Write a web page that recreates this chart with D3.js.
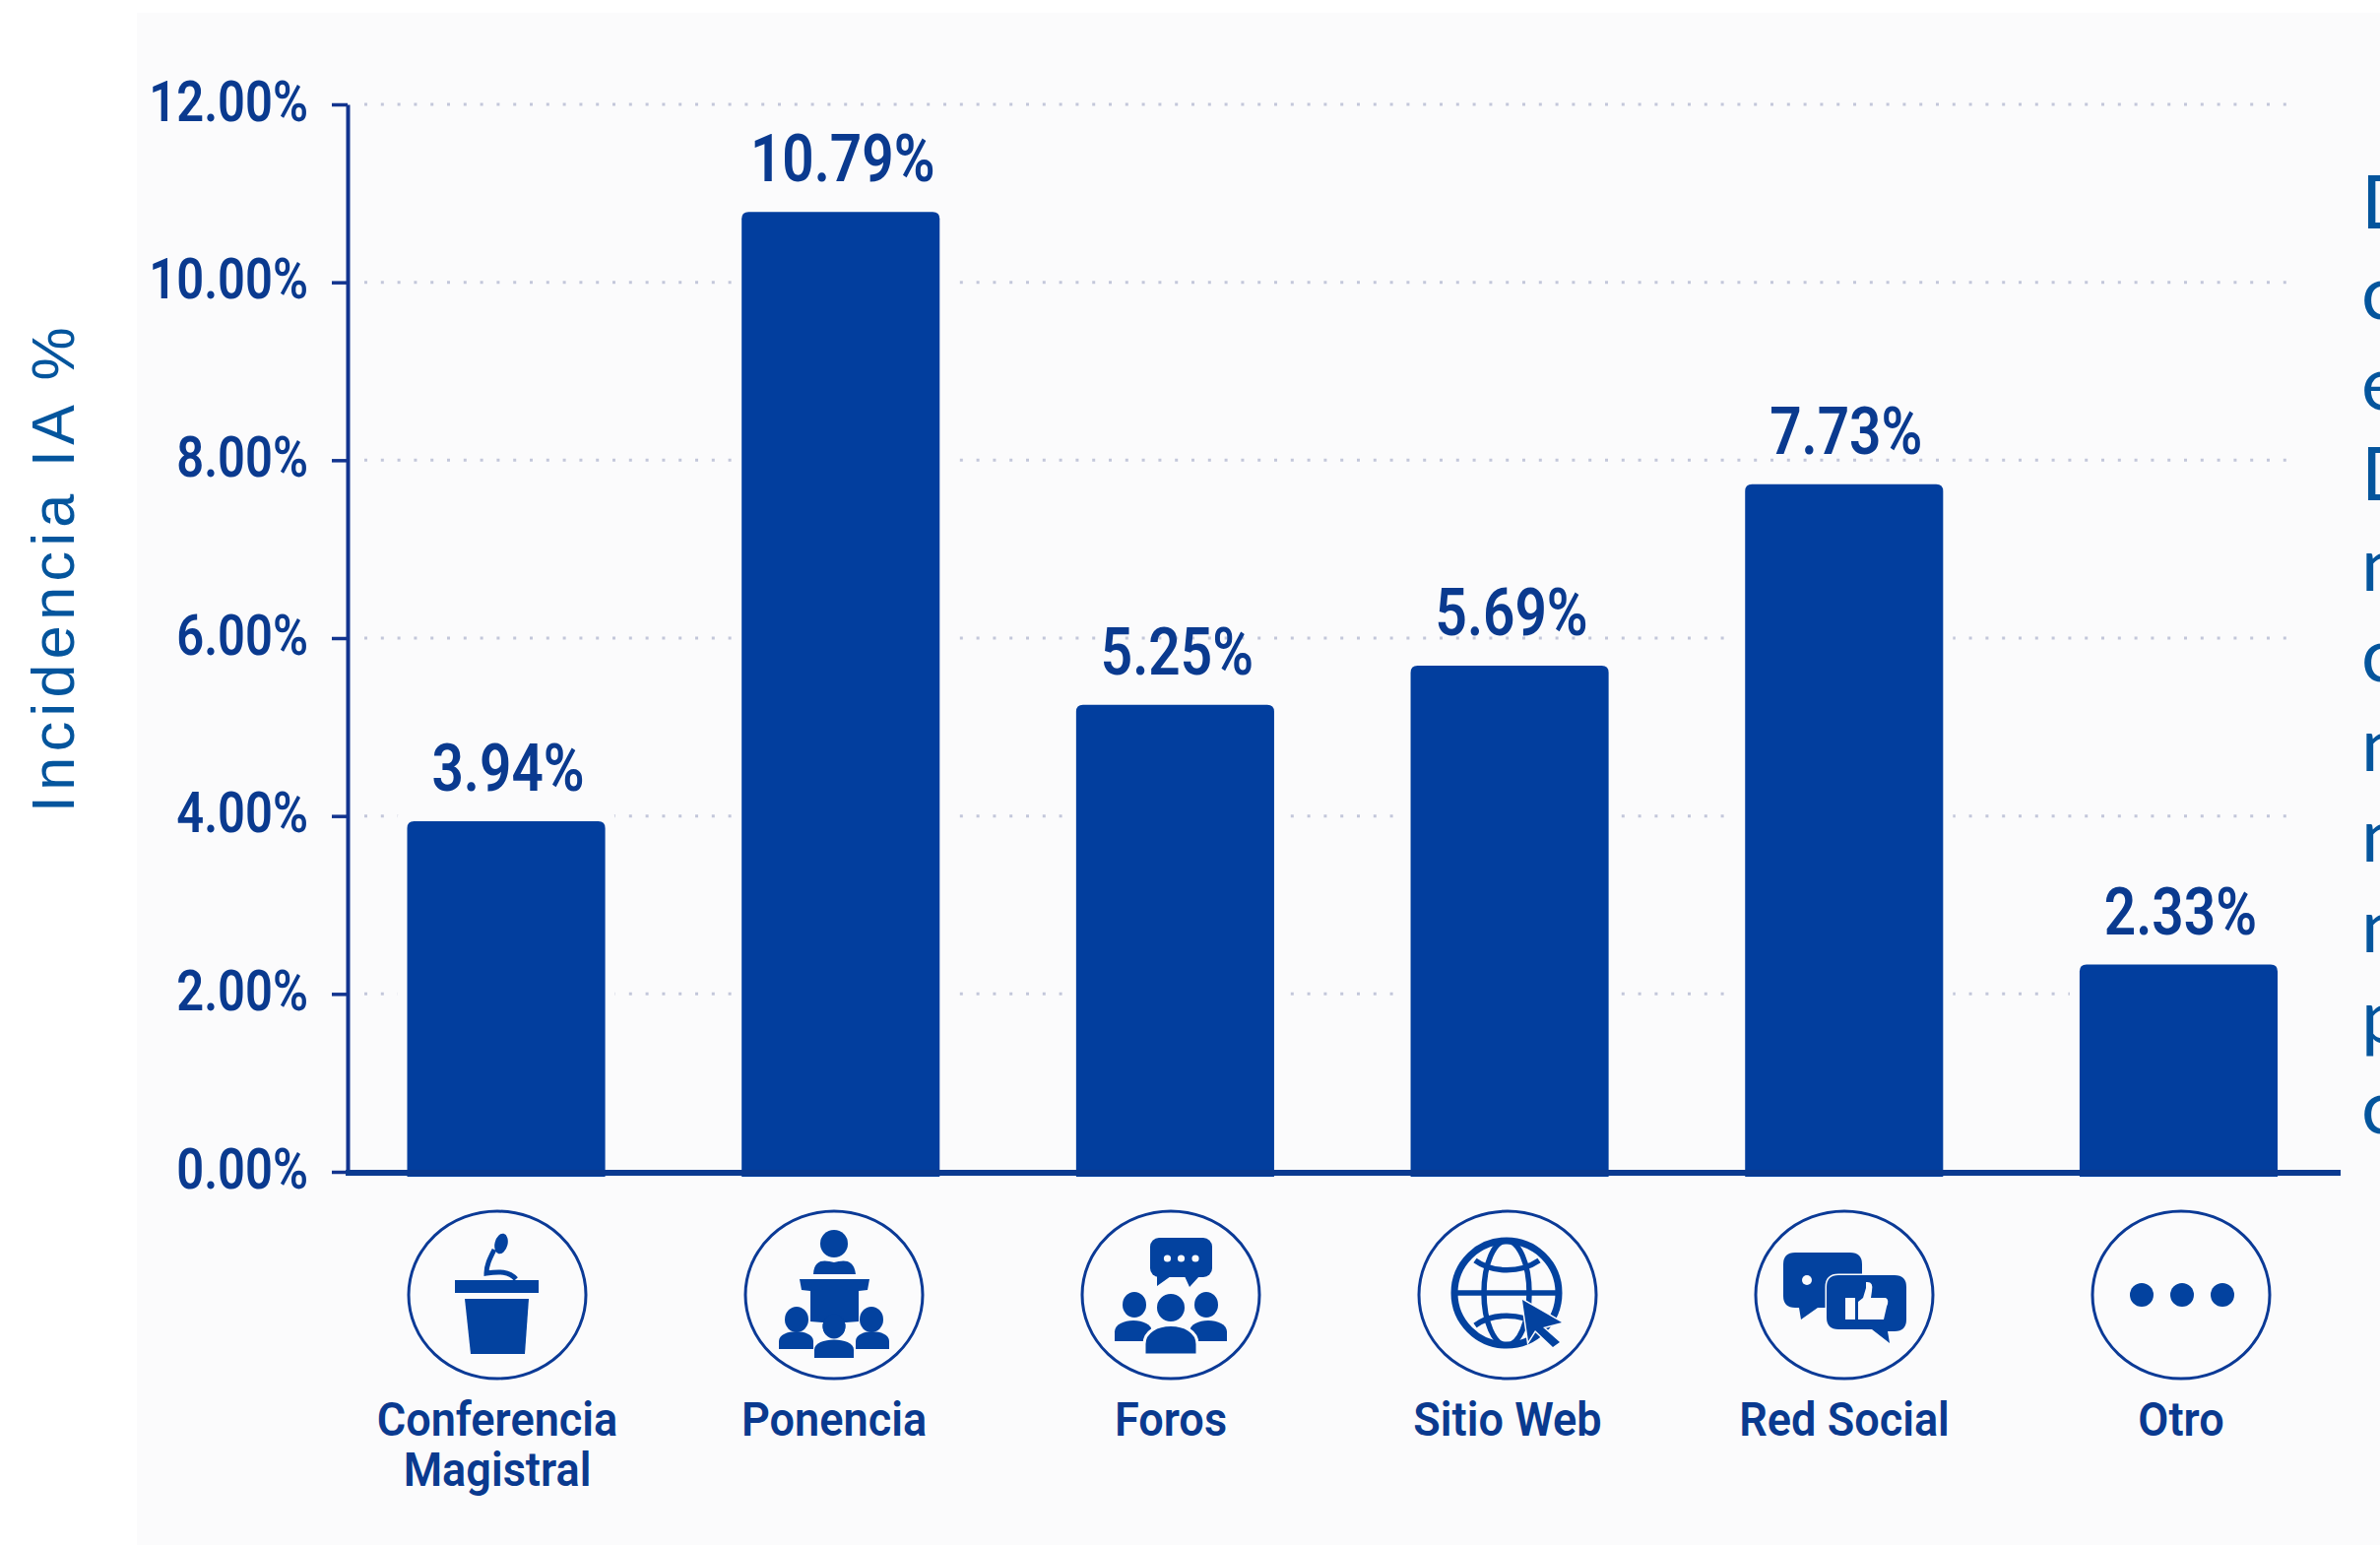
<!DOCTYPE html>
<html lang="es">
<head>
<meta charset="utf-8">
<title>Incidencia IA %</title>
<script src="https://cdn.jsdelivr.net/npm/d3@7/dist/d3.min.js"></script>
<style>
  html, body { margin: 0; padding: 0; background: #ffffff; overflow: hidden; }
  svg { display: block; }
</style>
</head>
<body>
<svg id="chart" width="2417" height="1569"></svg>
<script>
// Data
const categories = ["Conferencia Magistral", "Ponencia", "Foros", "Sitio Web", "Red Social", "Otro"];
const categoryLines = [["Conferencia", "Magistral"], ["Ponencia"], ["Foros"], ["Sitio Web"], ["Red Social"], ["Otro"]];
const values = [3.94, 10.79, 5.25, 5.69, 7.73, 2.33];
const yTicks = [0, 2, 4, 6, 8, 10, 12];
const yTitle = "Incidencia IA %";
const sideLetters = ["D", "c", "e", "D", "n", "c", "n", "n", "n", "p", "c"];

// Palette
const PANEL = "#fbfbfc", BAR = "#023e9e", INK = "#0a3a8f", AXIS = "#12348f",
      GRID = "#c3c7da", TITLE = "#04559d", ICON = "#03429f";
const SANS = "Roboto, 'Noto Sans', sans-serif";

const svg = d3.select("#chart");

// Scales
const y = d3.scaleLinear().domain([0, 12]).range([1190, 106]);
const x = d3.scaleBand().domain(categories).range([413.5, 2313]).paddingInner(0.408);
const iconX = d3.scalePoint().domain(categories).range([505, 2215]);

// Panel behind the plot
svg.append("rect").attr("x", 139).attr("y", 13).attr("width", 2278).attr("height", 1556).attr("fill", PANEL);

// Vertical title and the clipped text column on the right edge
svg.append("text")
  .attr("transform", "translate(75,825) rotate(-90)")
  .attr("font-family", "'Liberation Sans', Arial, sans-serif")
  .attr("font-size", 61).attr("letter-spacing", 5.4).attr("fill", TITLE)
  .text(yTitle);

const sideLine = d3.scaleLinear().domain([0, sideLetters.length - 1]).range([232, 1151]);
svg.append("g").selectAll("text").data(sideLetters).join("text")
  .attr("x", 2398).attr("y", (d, i) => sideLine(i))
  .attr("font-family", "Lato, sans-serif").attr("font-weight", 400)
  .attr("font-size", 76).attr("fill", TITLE)
  .text(d => d);

// Dotted grid
svg.append("g").selectAll("line").data(yTicks.filter(t => t > 0)).join("line")
  .attr("x1", 370).attr("x2", 2325).attr("y1", d => y(d)).attr("y2", d => y(d))
  .attr("stroke", GRID).attr("stroke-width", 3).attr("stroke-dasharray", "3 13.8");

// Bars: a panel-coloured clearing under each one keeps the dots off its sides
const rounded = (d, grow) => {
  const x0 = x(d.c) - grow, x1 = x(d.c) + x.bandwidth() + grow;
  const y0 = y(d.v) - grow, y1 = y(0) + 5, r = 7;
  return `M${x0},${y1}V${y0 + r}Q${x0},${y0} ${x0 + r},${y0}H${x1 - r}Q${x1},${y0} ${x1},${y0 + r}V${y1}Z`;
};
const barData = categories.map((c, i) => ({ c, v: values[i] }));
svg.append("g").selectAll("path").data(barData).join("path")
  .attr("d", d => rounded(d, 10)).attr("fill", PANEL);

// Axis
const yAxis = d3.axisLeft(y)
  .tickValues(yTicks).tickSize(16).tickSizeOuter(0)
  .tickFormat(d => d3.format(".2f")(d) + "%");
const axisG = svg.append("g").attr("transform", "translate(353,0)").call(yAxis);
axisG.select(".domain").attr("stroke", AXIS).attr("stroke-width", 4);
axisG.selectAll(".tick line").attr("stroke", AXIS).attr("stroke-width", 3.5);
axisG.selectAll(".tick text")
  .attr("x", 0).attr("dy", 0)
  .attr("transform", "translate(-40,16) scale(0.85,1)")
  .attr("font-family", SANS).attr("font-weight", 600).attr("font-size", 57.5)
  .attr("fill", INK).attr("text-anchor", "end");

svg.append("g").selectAll("path").data(barData).join("path")
  .attr("d", d => rounded(d, 0)).attr("fill", BAR);

svg.append("line").attr("x1", 351).attr("x2", 2377).attr("y1", y(0) + 1).attr("y2", y(0) + 1)
  .attr("stroke", "#0a3a90").attr("stroke-width", 6);

// Value labels
svg.append("g").selectAll("text").data(barData).join("text")
  .attr("transform", d => `translate(${x(d.c) + x.bandwidth() / 2 + 2},${y(d.v) - 31}) scale(0.86,1)`)
  .attr("text-anchor", "middle")
  .attr("font-family", SANS).attr("font-weight", 600).attr("font-size", 66)
  .attr("fill", INK)
  .text(d => d3.format(".2f")(d.v) + "%");

// Pictograms, drawn around the centre of their ring
const shape = (g, tag, attrs) => {
  const el = g.append(tag);
  Object.entries(attrs).forEach(([k, v]) => el.attr(k, v));
  return el;
};
const person = (g, cx, headY, headR, x0, x1, top, bottom) => {
  shape(g, "ellipse", { cx, cy: headY, rx: headR, ry: headR + 1, fill: ICON });
  shape(g, "path", {
    d: `M${x0},${bottom}V${top + (bottom - top) * 0.62}C${x0},${top} ${x1},${top} ${x1},${top + (bottom - top) * 0.62}V${bottom}Z`,
    fill: ICON
  });
};
const pictograms = [
  // Lectern with microphone
  g => {
    shape(g, "path", { d: "M-43,-15H42V-2H-43Z", fill: ICON });
    shape(g, "path", { d: "M-33,4H32L28,60H-27Z", fill: ICON });
    shape(g, "ellipse", { cx: 4, cy: -52, rx: 6.5, ry: 10.5, transform: "rotate(14 4 -52)", fill: ICON });
    shape(g, "path", { d: "M-3,-46C-8,-36 -11,-30 -11,-22C2,-24 12,-24 19,-16", fill: "none", stroke: ICON, "stroke-width": 5 });
  },
  // Speaker at a lectern with an audience
  g => {
    shape(g, "circle", { cx: 0, cy: -52, r: 14, fill: ICON });
    shape(g, "path", { d: "M-21,-21C-20,-38 -8,-35 0,-33C8,-35 20,-38 22,-21Z", fill: ICON });
    shape(g, "path", { d: "M-35,-16H36L34,-5L25,-4V27L12,28H-12L-24,27V-4L-33,-5Z", fill: ICON });
    shape(g, "circle", { cx: 0, cy: 32, r: 11.5, fill: ICON });
    person(g, -38, 25, 12, -56, -21, 34, 55);
    person(g, 38, 25, 12, 22, 56, 34, 55);
    person(g, 0, 32, 11.5, -20, 20, 42, 64);
  },
  // Group with a speech bubble
  g => {
    shape(g, "rect", { x: -21, y: -58, width: 63, height: 40, rx: 9, fill: ICON });
    shape(g, "path", { d: "M-14,-19V-9L0,-19Z M14,-19L19,-8L29,-19Z", fill: ICON });
    [-3.5, 10.5, 25].forEach(cx => shape(g, "circle", { cx, cy: -37, r: 3.6, fill: PANEL }));
    person(g, -37, 10, 12, -57, -19, 22, 47);
    person(g, 36, 10, 12, 19, 57, 22, 47);
    shape(g, "ellipse", { cx: 0, cy: 13, rx: 15, ry: 15, fill: ICON, stroke: PANEL, "stroke-width": 2 });
    shape(g, "path", { d: "M-27,61V50C-27,24 27,24 27,50V61Z", fill: ICON, stroke: PANEL, "stroke-width": 3 });
  },
  // Globe with pointer
  g => {
    const line = { fill: "none", stroke: ICON };
    shape(g, "circle", { cx: -1, cy: -2, r: 53, ...line, "stroke-width": 7 });
    shape(g, "ellipse", { cx: -1, cy: -2, rx: 23, ry: 53, ...line, "stroke-width": 5.5 });
    shape(g, "path", { d: "M-54,-2H52", ...line, "stroke-width": 5.5 });
    shape(g, "path", { d: "M-33,-35C-15,-22 13,-22 32,-35 M-33,31C-15,18 13,18 32,31", ...line, "stroke-width": 5.5 });
    shape(g, "path", {
      d: "M15,5L55,28L36,33L53,48L46,53L28,36L21,47Z",
      fill: ICON, stroke: PANEL, "stroke-width": 3, "paint-order": "stroke"
    });
  },
  // Chat bubbles with a thumbs-up
  g => {
    shape(g, "path", { d: "M-50,-43H6Q18,-43 18,-31V13H-27L-44,25L-46,13H-50Q-62,13 -62,1V-31Q-62,-43 -50,-43Z", fill: ICON });
    shape(g, "circle", { cx: -38, cy: -15, r: 5, fill: PANEL });
    shape(g, "path", {
      d: "M-6,-20H51Q63,-20 63,-8V25Q63,37 51,37H44L46,49L28,35H-6Q-18,35 -18,23V-8Q-18,-20 -6,-20Z",
      fill: ICON, stroke: PANEL, "stroke-width": 3, "paint-order": "stroke"
    });
    shape(g, "path", {
      d: "M1,3H11V25H1Z M14,25V7L19,3L22,-7V-13Q30,-14 28,-4L27,3H42Q46,5 43,12L40,25Z",
      fill: PANEL
    });
  },
  // Three dots
  g => {
    [-40, 1, 42].forEach(cx => shape(g, "circle", { cx, cy: 0, r: 12, fill: ICON }));
  }
];

const iconG = svg.append("g").selectAll("g").data(categories).join("g")
  .attr("transform", d => `translate(${iconX(d)},1315)`);
iconG.append("ellipse")
  .attr("rx", 90).attr("ry", 85).attr("fill", "none").attr("stroke", "#0b3a96").attr("stroke-width", 3);
iconG.each(function (d, i) { pictograms[i](d3.select(this)); });

// Category labels
const labelG = svg.append("g").selectAll("g").data(categories).join("g");
labelG.each(function (c, i) {
  categoryLines[i].forEach((t, j) => {
    d3.select(this).append("text")
      .attr("transform", `translate(${iconX(c)},${1458 + j * 51}) scale(0.92,1)`)
      .attr("text-anchor", "middle")
      .attr("font-family", SANS).attr("font-weight", 600).attr("font-size", 49)
      .attr("fill", INK)
      .text(t);
  });
});
</script>
</body>
</html>
